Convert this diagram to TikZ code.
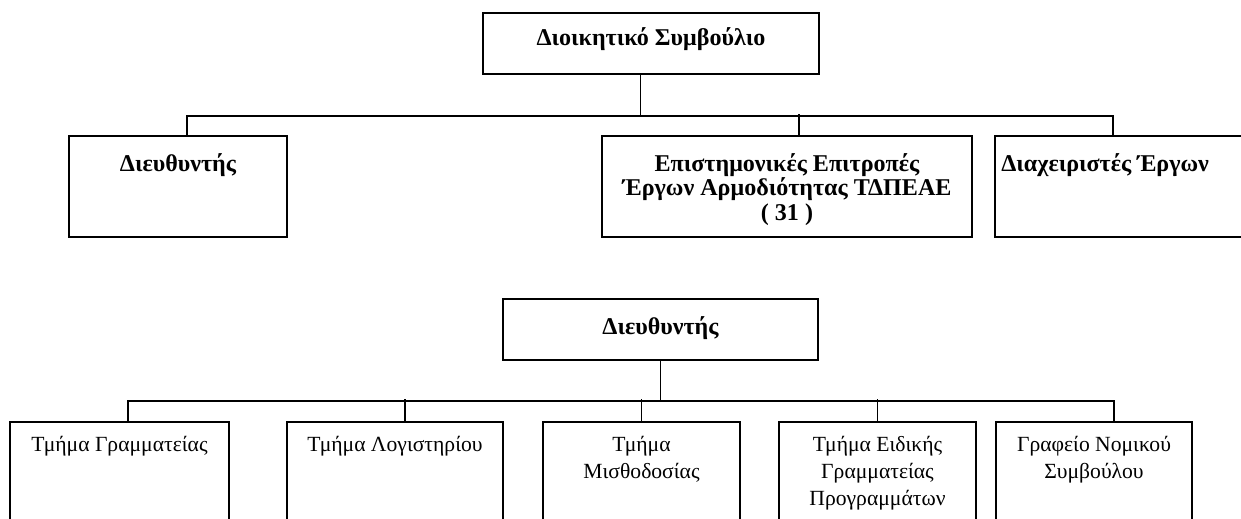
\documentclass[tikz,border=0pt]{standalone}
\usepackage{fontspec}
\setmainfont{Liberation Serif}

\tikzset{
  unit/.style={draw, rectangle, line width=1.1pt, inner sep=0pt, minimum height=2.02cm},
  head/.style={anchor=north, yshift=#1, inner sep=0pt, align=center, font=\bfseries\fontsize{13.7}{14}\selectfont},
  head/.default=-0.36cm,
  dept/.style={anchor=north, yshift=-0.30cm, inner sep=0pt, align=center, font=\fontsize{12.3}{15.2}\selectfont},
  link/.style={line width=0.75pt}
}

\begin{document}
\begin{tikzpicture}[node distance=2.86cm]
  \useasboundingbox (0,0) rectangle (24.82,-10.36);
  \clip (0,0) rectangle (24.82,-10.36);

  % upper chart
  \node[unit, minimum width=6.72cm, minimum height=1.22cm, label={[head=-0.30cm]north:Διοικητικό Συμβούλιο}] (board) at (13.02,-0.87) {};
  \node[unit, minimum width=4.36cm, label={[head]north:Διευθυντής}] (dir1) [below of=board, xshift=-9.46cm] {};
  \node[unit, minimum width=7.40cm, label={[head]north:{Επιστημονικές Επιτροπές\\Έργων Αρμοδιότητας ΤΔΠΕΑΕ\\( 31 )}}] (sci) [below of=board, xshift=2.72cm] {};
  \node[unit, minimum width=5.60cm, label={[head, anchor=north west, xshift=0.14cm]north west:Διαχειριστές Έργων}] (mgr) [below of=board, xshift=9.68cm] {};

  % lower chart
  \node[unit, minimum width=6.30cm, minimum height=1.22cm, label={[head]north:Διευθυντής}] (dir2) [below of=board, yshift=-2.86cm, xshift=0.19cm] {};
  \node[unit, minimum width=4.38cm, minimum height=2.40cm, label={[dept]north:Τμήμα Γραμματείας}] (dept1) [below of=dir2, yshift=-0.19cm, xshift=-10.82cm] {};
  \node[unit, minimum width=4.32cm, minimum height=2.40cm, label={[dept]north:Τμήμα Λογιστηρίου}] (dept2) [below of=dir2, yshift=-0.19cm, xshift=-5.31cm] {};
  \node[unit, minimum width=3.94cm, minimum height=2.40cm, label={[dept]north:{Τμήμα\\Μισθοδοσίας}}] (dept3) [below of=dir2, yshift=-0.19cm, xshift=-0.38cm] {};
  \node[unit, minimum width=3.94cm, minimum height=2.40cm, label={[dept]north:{Τμήμα Ειδικής\\Γραμματείας\\Προγραμμάτων}}] (dept4) [below of=dir2, yshift=-0.19cm, xshift=4.34cm] {};
  \node[unit, minimum width=3.92cm, minimum height=2.40cm, label={[dept]north:{Γραφείο Νομικού\\Συμβούλου}}] (dept5) [below of=dir2, yshift=-0.19cm, xshift=8.67cm] {};

  \coordinate (bus1) at ([xshift=-0.21cm, yshift=-0.82cm]board.south);
  \coordinate (bus2) at ([yshift=-0.80cm]dir2.south);

  \draw[link]
  ([xshift=-0.21cm]board.south) -- (bus1)
  ([xshift=0.18cm]dir1.north) |- (bus1) -| ([xshift=-0.44cm]mgr.north)
  ([xshift=0.24cm]sci.north) -- ++(0,0.42);

  \draw[link]
  (dir2.south) -- (bus2)
  ([xshift=0.17cm]dept1.north) |- (bus2) -| ([xshift=0.40cm]dept5.north)
  ([xshift=0.20cm]dept2.north) -- ++(0,0.44)
  (dept3.north) -- ++(0,0.44)
  (dept4.north) -- ++(0,0.44);
\end{tikzpicture}
\end{document}
